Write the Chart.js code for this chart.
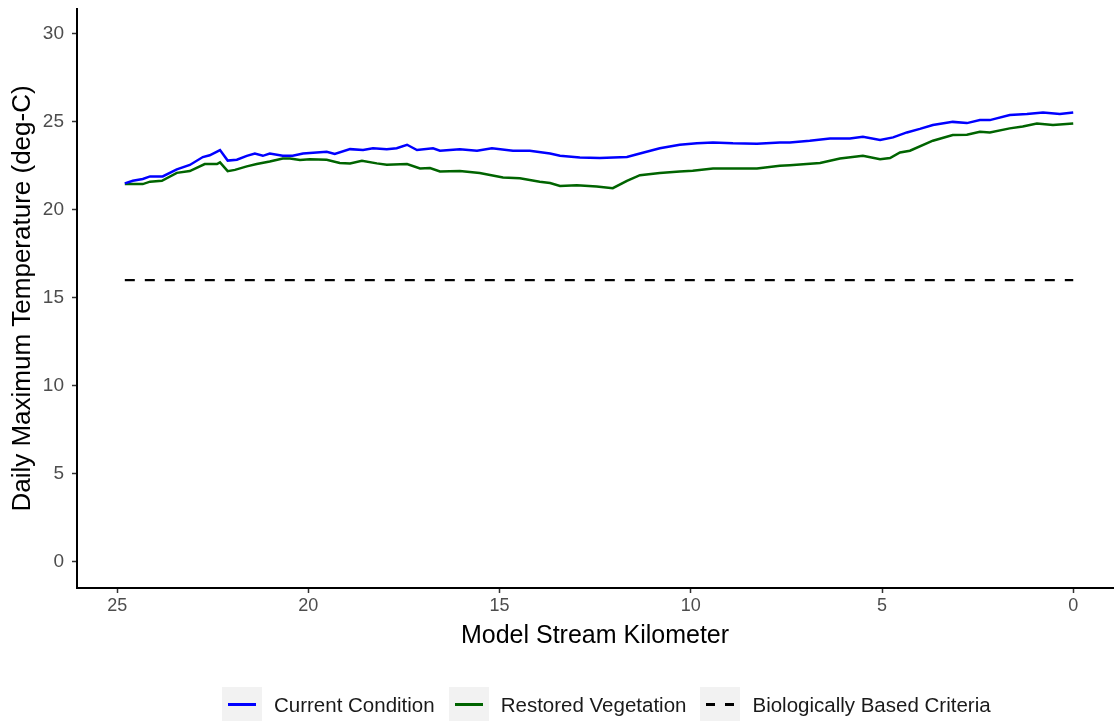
<!DOCTYPE html>
<html>
<head>
    <title>Daily Maximum Temperature by Stream Kilometer</title>
    <script src="https://cdn.jsdelivr.net/npm/chart.js@4.4.0/dist/chart.umd.min.js"></script>
    <style>
        body { margin: 0; padding: 0; background: #fff; font-family: "Liberation Sans", Arial, sans-serif; }
        .wrap { position: relative; width: 1115px; height: 721px; }
        .legend {
            position: absolute; left: 222px; top: 687px;
            display: flex; align-items: center;
            font-size: 20.5px; color: #1a1a1a; white-space: nowrap;
        }
        .item { display: flex; align-items: center; margin-right: 14px; }
        .key { width: 40px; height: 35px; background: #f2f2f2; position: relative; margin-right: 12px; }
        .key .ln { position: absolute; left: 6px; width: 28px; top: 16px; height: 2.5px; }
        .key .d1, .key .d2 { position: absolute; top: 16px; width: 9px; height: 2.5px; background: #000; }
    </style>
</head>
<body>
<div class="wrap">
    <canvas id="tempChart" width="1115" height="721"></canvas>
    <div class="legend">
        <div class="item"><div class="key"><div class="ln" style="background:#0000ff"></div></div>Current Condition</div>
        <div class="item"><div class="key"><div class="ln" style="background:#006400"></div></div>Restored Vegetation</div>
        <div class="item"><div class="key"><div class="d1" style="left:6px"></div><div class="d2" style="left:25px"></div></div>Biologically Based Criteria</div>
    </div>
</div>
<script>
    // values (km upstream -> deg C)
    const currentKm = [24.80,24.59,24.33,24.14,23.81,23.44,23.10,22.76,22.58,22.31,22.11,21.87,21.61,21.40,21.19,21.01,20.67,20.41,20.14,19.52,19.31,18.91,18.57,18.31,17.95,17.69,17.42,17.16,16.74,16.56,16.30,16.04,15.59,15.20,14.65,14.21,13.68,13.42,12.90,12.38,11.67,11.33,10.81,10.29,9.84,9.42,8.90,8.27,7.67,7.41,6.89,6.36,5.84,5.50,5.05,4.71,4.35,4.01,3.67,3.15,2.78,2.44,2.18,1.66,1.21,0.79,0.35,0.0];
    const currentTemp = [21.5,21.65,21.75,21.9,21.9,22.3,22.55,23.0,23.1,23.4,22.8,22.85,23.07,23.2,23.07,23.2,23.07,23.07,23.2,23.3,23.17,23.45,23.4,23.5,23.45,23.5,23.7,23.4,23.5,23.36,23.4,23.45,23.36,23.5,23.36,23.36,23.2,23.07,22.98,22.94,23.0,23.2,23.5,23.7,23.78,23.83,23.78,23.76,23.83,23.83,23.93,24.06,24.06,24.15,23.97,24.12,24.4,24.6,24.82,25.0,24.93,25.1,25.1,25.39,25.45,25.54,25.45,25.54];

    const restoredKm = [24.80,24.33,24.14,23.83,23.44,23.10,22.71,22.39,22.31,22.11,21.92,21.61,21.35,21.01,20.67,20.48,20.22,19.96,19.52,19.18,18.91,18.60,18.21,17.95,17.42,17.08,16.82,16.56,16.04,15.52,14.91,14.47,13.95,13.68,13.42,12.98,12.46,12.04,11.67,11.33,10.81,10.29,9.95,9.42,8.79,8.27,7.67,7.41,6.62,6.10,5.50,5.05,4.79,4.53,4.27,3.67,3.15,2.78,2.44,2.18,1.66,1.32,0.95,0.53,0.0];
    const restoredTemp = [21.46,21.46,21.6,21.65,22.1,22.2,22.6,22.6,22.7,22.2,22.27,22.47,22.6,22.75,22.92,22.92,22.83,22.88,22.85,22.66,22.64,22.79,22.64,22.56,22.6,22.35,22.37,22.18,22.2,22.09,21.84,21.79,21.6,21.52,21.36,21.4,21.33,21.23,21.65,21.97,22.09,22.18,22.22,22.35,22.35,22.35,22.5,22.54,22.66,22.92,23.07,22.88,22.94,23.26,23.36,23.93,24.25,24.27,24.44,24.4,24.63,24.74,24.91,24.82,24.91];

    const criteriaKm = [24.80, 0];
    const criteriaTemp = [16, 16];

    const xTicks = [0, 5, 10, 15, 20, 25];
    const yTicks = [0, 5, 10, 15, 20, 25, 30];

    const toPoints = (xs, ys) => xs.map((x, i) => ({ x: x, y: ys[i] }));
    const tickColor = '#4d4d4d';
    const fontFamily = '"Liberation Sans", Arial, sans-serif';

    new Chart(document.getElementById('tempChart'), {
        type: 'line',
        data: {
            datasets: [
                { label: 'Current Condition', data: toPoints(currentKm, currentTemp), borderColor: '#0000ff', borderWidth: 2.5, pointRadius: 0, tension: 0, fill: false },
                { label: 'Restored Vegetation', data: toPoints(restoredKm, restoredTemp), borderColor: '#006400', borderWidth: 2.5, pointRadius: 0, tension: 0, fill: false },
                { label: 'Biologically Based Criteria', data: toPoints(criteriaKm, criteriaTemp), borderColor: '#000000', borderWidth: 2.2, borderDash: [10, 10], pointRadius: 0, tension: 0, fill: false }
            ]
        },
        options: {
            responsive: false,
            animation: false,
            layout: { padding: { top: 9, right: 2, bottom: 66, left: 0 } },
            plugins: { legend: { display: false }, tooltip: { enabled: false } },
            scales: {
                x: {
                    type: 'linear',
                    reverse: true,
                    min: -1.04,
                    max: 26.05,
                    afterBuildTicks: s => { s.ticks = xTicks.map(v => ({ value: v })); },
                    afterFit: s => { s.height = 67; s.paddingLeft = 0; s.paddingRight = 0; },
                    grid: { display: true, drawOnChartArea: false, drawTicks: true, tickLength: 5, tickWidth: 1.5, color: '#333' },
                    border: { display: true, color: '#000', width: 2 },
                    ticks: { color: tickColor, font: { family: fontFamily, size: 18 }, padding: 2, maxRotation: 0 },
                    title: { display: true, text: 'Model Stream Kilometer', color: '#000', font: { family: fontFamily, size: 25 }, padding: { top: 8 } }
                },
                y: {
                    min: -1.51,
                    max: 31.42,
                    afterBuildTicks: s => { s.ticks = yTicks.map(v => ({ value: v })); },
                    afterFit: s => { s.width = 77; s.paddingTop = 0; s.paddingBottom = 0; },
                    grid: { display: true, drawOnChartArea: false, drawTicks: true, tickLength: 5, tickWidth: 1.5, color: '#333' },
                    border: { display: true, color: '#000', width: 2 },
                    ticks: { color: tickColor, font: { family: fontFamily, size: 19 }, padding: 8 },
                    title: { display: true, text: 'Daily Maximum Temperature (deg-C)', color: '#000', font: { family: fontFamily, size: 26 }, padding: { top: 7, bottom: 0 } }
                }
            }
        }
    });
</script>
</body>
</html>
